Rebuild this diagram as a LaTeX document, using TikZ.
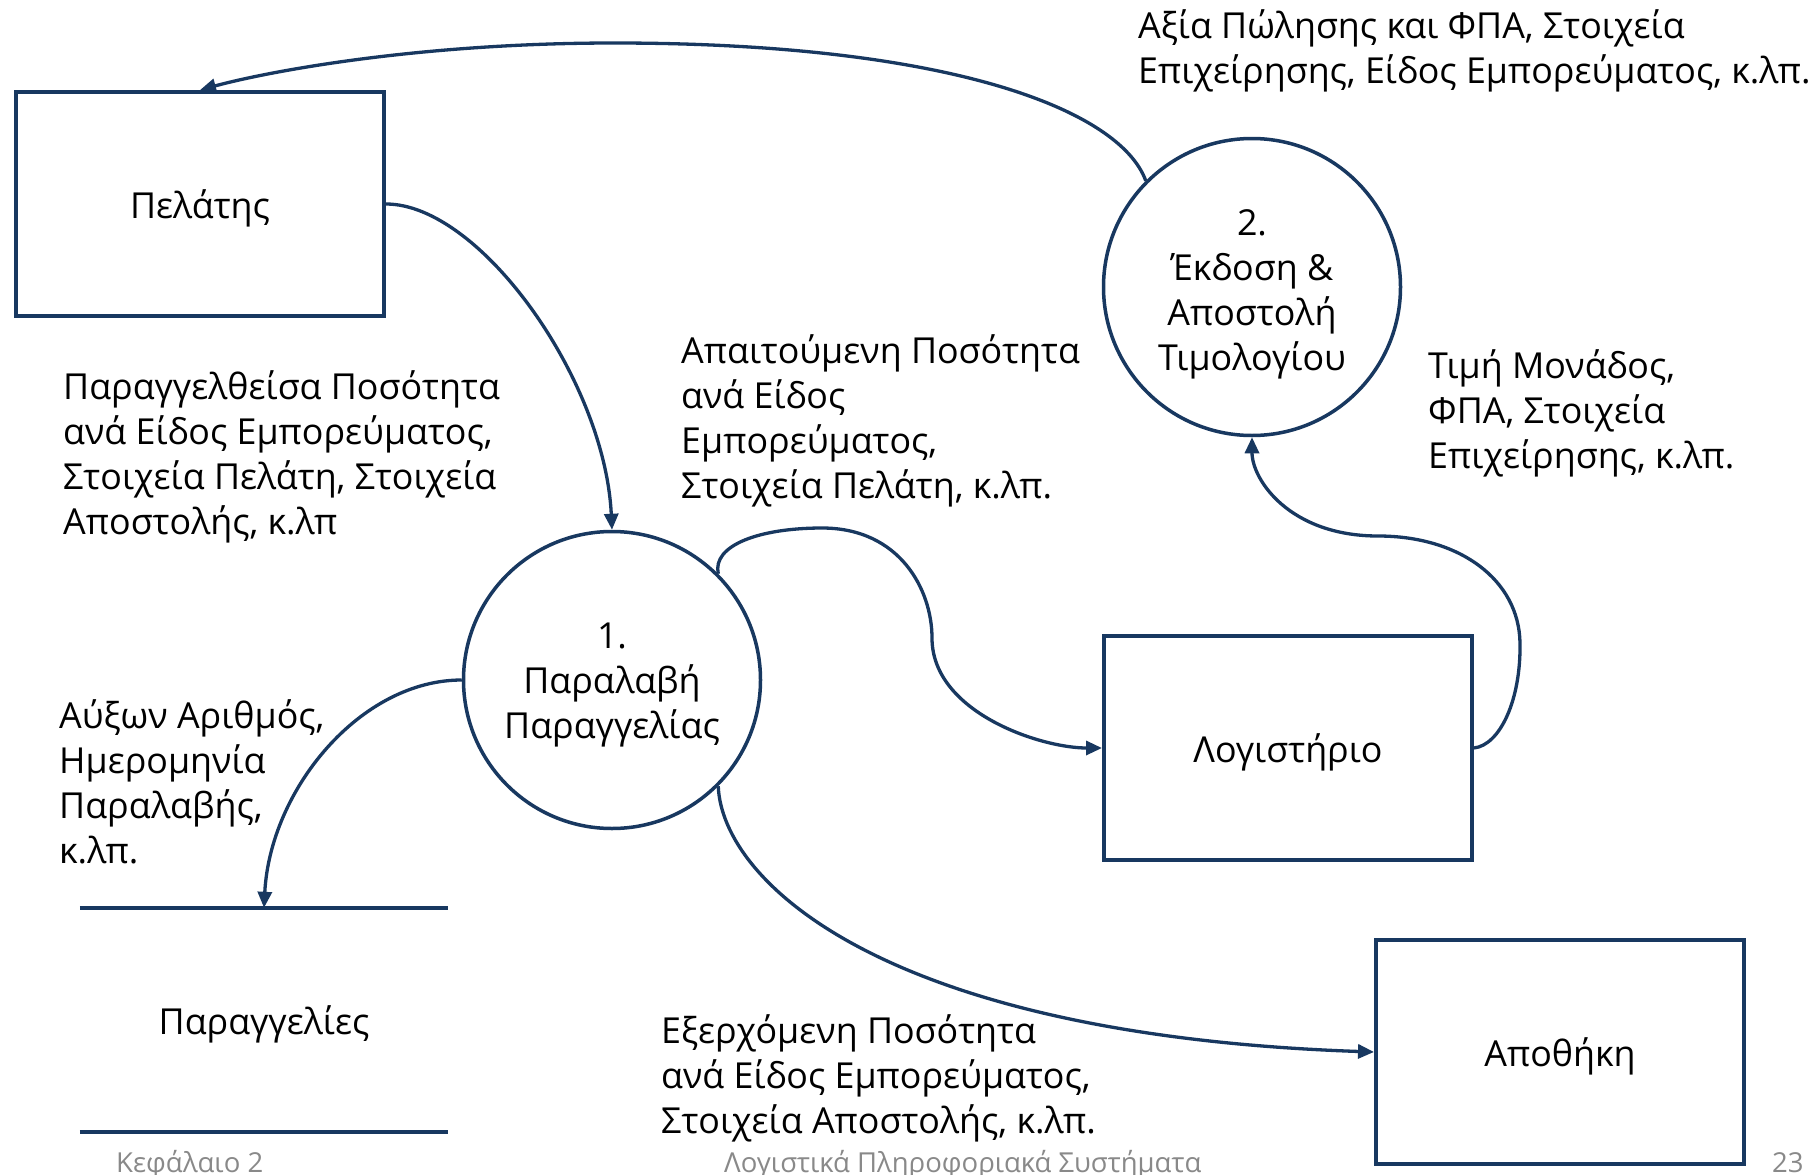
\documentclass[tikz,border=0pt]{standalone}
\usepackage{fontspec}
\setmainfont{Open Sans}
\usetikzlibrary{arrows.meta}
\definecolor{navy}{RGB}{24,56,96}
\definecolor{footgray}{RGB}{137,137,137}
\newcommand{\lblfont}{\fontsize{35.8}{45}\selectfont}
\newcommand{\lbl}[1]{\parbox[t]{800pt}{\raggedright\lblfont #1}}
\newcommand{\ctext}[1]{\parbox[t]{300pt}{\centering\lblfont #1}}
\tikzset{
  box/.style={draw=navy, line width=4pt, minimum width=368pt, minimum height=224pt, inner sep=0pt, font=\lblfont, text depth=0pt},
  proc/.style={draw=navy, line width=3.5pt, circle, minimum size=297pt, inner sep=0pt},
  flow/.style={draw=navy, line width=3.3pt, -{Triangle[length=16pt,width=14pt]}},
  lab/.style={anchor=base west, inner sep=0pt},
  foot/.style={anchor=base west, inner sep=0pt, text=footgray, font=\fontsize{27.5}{30}\selectfont},
  storeline/.style={draw=navy, line width=4pt}
}
\begin{document}
\begin{tikzpicture}[x=1pt,y=-1pt]
\useasboundingbox[fill=white] (0,0) rectangle (1816,1175);

% entities
\node[box] (pel) at (200,204) {Πελάτης};
\node[box] (log) at (1288,748) {Λογιστήριο};
\node[box] (apo) at (1560,1052) {Αποθήκη};

% processes
\node[proc] (c1) at (612,680) {};
\node[proc] (c2) at (1252,287) {};
\node[anchor=base, inner sep=0pt] (c1t) at (612,648) {\ctext{1.\\Παραλαβή\\Παραγγελίας}};
\node[anchor=base, inner sep=0pt] (c2t) at (1252,235) {\ctext{2.\\Έκδοση \&\\Αποστολή\\Τιμολογίου}};

% data store
\node[minimum width=368pt, minimum height=224pt, inner sep=0pt, font=\lblfont, text depth=0pt] (store) at (264,1020) {Παραγγελίες};
\draw[storeline] (store.north west) -- (store.north east);
\draw[storeline] (store.south west) -- (store.south east);

% flows
\draw[flow] (c2.135) .. controls (1120,110) and (950,43) .. (614,43)
  .. controls (420,43) and (270,71) .. (pel.north);
\draw[flow] (pel.east) .. controls (480,204) and (605,380) .. (c1.north);
\draw[flow] (c1.45) .. controls (712,545) and (760,528) .. (822,528)
  .. controls (900,528) and (932,590) .. (932,638)
  .. controls (932,712) and (1040,748) .. (log.west);
\draw[flow] (log.east) .. controls (1500,745) and (1521,700) .. (1520,643)
  .. controls (1519,580) and (1460,536) .. (1378,536)
  .. controls (1290,536) and (1252,480) .. (c2.south);
\draw[flow] (c1.west) .. controls (360,680) and (270,790) .. (store.north);
\draw[flow] (c1.-45) .. controls (722,880) and (880,1035) .. (apo.west);

% labels
\node[lab] (l1) at (1138,38) {\lbl{Αξία Πώλησης και ΦΠΑ, Στοιχεία\\Επιχείρησης, Είδος Εμπορεύματος, κ.λπ.}};
\node[lab] (l2) at (63,399) {\lbl{Παραγγελθείσα Ποσότητα\\ανά Είδος Εμπορεύματος,\\Στοιχεία Πελάτη, Στοιχεία\\Αποστολής, κ.λπ}};
\node[lab] (l3) at (681,363) {\lbl{Απαιτούμενη Ποσότητα\\ανά Είδος\\Εμπορεύματος,\\Στοιχεία Πελάτη, κ.λπ.}};
\node[lab] (l4) at (1428,378) {\lbl{Τιμή Μονάδος,\\ΦΠΑ, Στοιχεία\\Επιχείρησης, κ.λπ.}};
\node[lab] (l5) at (59,728) {\lbl{Αύξων Αριθμός,\\Ημερομηνία\\Παραλαβής,\\κ.λπ.}};
\node[lab] (l6) at (661,1043) {\lbl{Εξερχόμενη Ποσότητα\\ανά Είδος Εμπορεύματος,\\Στοιχεία Αποστολής, κ.λπ.}};

% footer
\node[foot] (f1) at (116,1172) {Κεφάλαιο 2};
\node[foot] (f2) at (724,1172) {Λογιστικά Πληροφοριακά Συστήματα};
\node[foot] (f3) at (1772,1172) {23};
\end{tikzpicture}
\end{document}
